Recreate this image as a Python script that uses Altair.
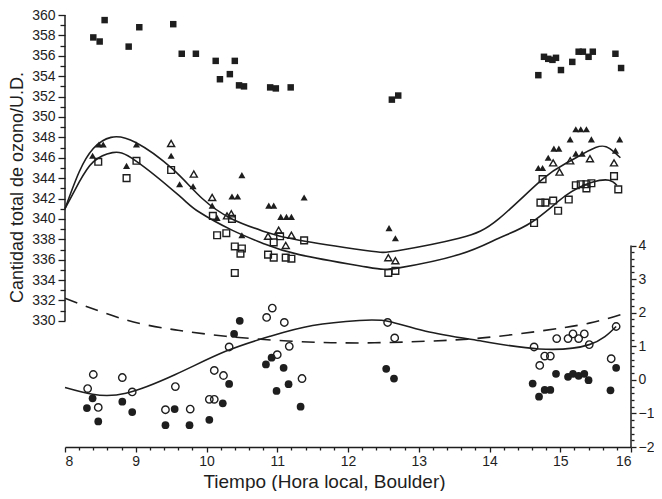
import altair as alt
import pandas as pd

# ---- Left scale (total ozone, U.D.) ----
fsq_h = [8.40, 8.49, 8.56, 8.90, 9.05, 9.53, 9.65, 9.85, 10.13, 10.40, 10.19, 10.33, 10.46, 10.53,
         10.90, 10.98, 11.19, 12.62, 12.71, 14.69, 14.77, 14.83, 14.89, 14.94, 15.01, 15.17, 15.26,
         15.32, 15.40, 15.46, 15.78, 15.86]
fsq_v = [357.8, 357.4, 359.5, 356.9, 358.8, 359.1, 356.2, 356.2, 355.5, 355.5, 353.7, 354.2, 353.1, 353.0,
         352.9, 352.8, 352.9, 351.7, 352.1, 354.1, 355.9, 355.7, 355.6, 355.8, 354.6, 355.4, 356.4,
         356.4, 355.9, 356.4, 356.2, 354.8]

ftri_h = [8.39, 8.48, 8.54, 9.01, 8.87, 9.50, 9.62, 9.81, 10.50, 10.36, 10.44, 10.08, 10.15, 10.50,
          10.88, 10.95, 11.05, 11.13, 11.20, 11.38, 12.58, 12.67, 14.69, 14.75, 14.83, 14.91, 14.98,
          15.22, 15.31, 15.14, 15.22, 15.29, 15.37, 15.44, 15.84, 15.78]
ftri_v = [346.2, 347.3, 347.3, 347.3, 345.2, 346.2, 343.4, 343.2, 344.3, 342.2, 342.2, 341.3, 340.1, 338.4,
          341.3, 341.3, 340.2, 340.2, 340.2, 342.1, 339.1, 338.1, 345.0, 345.0, 346.0, 346.9, 346.9,
          346.4, 346.4, 347.8, 348.8, 348.8, 348.8, 347.8, 347.8, 346.7]

otri_h = [9.50, 9.82, 10.08, 10.29, 10.35, 11.02, 10.87, 11.20, 11.12, 12.57, 12.67, 14.90, 15.14,
          14.99, 15.42, 15.76]
otri_v = [347.4, 344.4, 342.1, 340.3, 340.5, 338.9, 338.3, 338.4, 337.4, 336.2, 335.9, 345.5, 345.7,
          344.6, 345.9, 345.5]

osq_h = [8.47, 9.01, 8.87, 9.50, 10.09, 10.36, 10.15, 10.28, 10.40, 10.50, 10.48, 10.40, 11.04, 10.95,
         11.38, 10.87, 10.95, 11.12, 11.20, 12.57, 12.67, 14.75, 15.22, 15.29, 15.37, 15.44, 15.37,
         15.12, 14.72, 14.79, 14.90, 14.97, 14.63, 15.76, 15.82]
osq_v = [345.6, 345.7, 344.0, 344.8, 340.3, 340.0, 338.4, 338.6, 337.3, 337.1, 336.6, 334.7, 338.3, 337.7,
         337.9, 336.5, 336.2, 336.2, 336.1, 334.7, 334.9, 343.9, 343.3, 343.4, 343.4, 343.5, 343.0,
         341.9, 341.6, 341.6, 341.8, 340.8, 339.6, 344.2, 342.9]

uc_h = [8.0, 8.2, 8.4, 8.65, 9.0, 9.52, 9.94, 10.36, 10.8, 11.31, 12.25, 12.72, 13.57, 14.13, 14.75,
        15.12, 15.5, 15.7, 15.85]
uc_v = [341.0, 344.6, 346.9, 348.0, 347.5, 344.9, 342.0, 340.0, 338.8, 337.9, 336.9, 336.9, 338.1,
        340.0, 343.9, 345.6, 347.0, 346.9, 346.0]

lc_h = [8.0, 8.2, 8.4, 8.67, 9.0, 9.61, 9.89, 10.36, 10.8, 11.31, 12.25, 12.72, 13.57, 14.13, 14.6,
        15.08, 15.45, 15.69, 15.8]
lc_v = [341.0, 343.6, 345.6, 346.5, 345.7, 342.3, 340.7, 338.9, 337.6, 336.5, 335.3, 335.2, 336.5,
        338.1, 339.7, 342.3, 343.6, 343.8, 343.3]

# ---- Right scale ----
ocir_h = [8.40, 8.32, 8.47, 8.81, 8.95, 9.56, 9.42, 9.77, 10.11, 10.24, 10.04, 10.11, 10.32, 10.85,
          10.93, 11.10, 11.17, 11.00, 11.35, 12.56, 12.66, 14.63, 14.71, 14.78, 14.86, 14.95, 15.11,
          15.18, 15.26, 15.34, 15.41, 15.72, 15.79]
ocir_v = [0.16, -0.26, -0.82, 0.07, -0.36, -0.20, -0.89, -0.87, 0.28, 0.13, -0.58, -0.58, 0.98, 1.86,
          2.14, 1.71, 1.00, 0.75, 0.04, 1.71, 1.25, 0.98, 0.43, 0.71, 0.71, 1.23, 1.23,
          1.37, 1.23, 1.37, 1.05, 0.63, 1.59]

fcir_h = [8.39, 8.31, 8.47, 8.81, 8.95, 9.55, 9.42, 9.76, 10.04, 10.23, 10.32, 10.39, 10.47, 10.84,
          10.92, 11.09, 10.99, 11.16, 11.33, 12.54, 12.65, 14.61, 14.70, 14.78, 14.86, 14.94, 15.11,
          15.18, 15.26, 15.34, 15.40, 15.71, 15.79]
fcir_v = [-0.55, -0.84, -1.24, -0.65, -0.96, -0.87, -1.35, -1.35, -1.19, -0.70, -0.12, 1.37, 1.76, 0.46,
          0.66, 0.36, -0.33, -0.13, -0.80, 0.33, 0.04, -0.11, -0.50, -0.30, -0.30, 0.18, 0.09,
          0.18, 0.12, 0.18, -0.01, -0.31, 0.36]

rc_h = [8.0, 8.39, 8.86, 9.56, 10.27, 10.9, 11.5, 12.16, 12.58, 13.10, 13.90, 14.70, 15.41, 15.79]
rc_v = [-0.23, -0.43, -0.40, 0.16, 0.85, 1.30, 1.62, 1.77, 1.74, 1.45, 1.15, 0.92, 1.05, 1.59]

dc_h = [8.0, 8.86, 9.56, 10.27, 11.21, 12.16, 13.10, 13.90, 14.70, 15.41, 15.92]
dc_v = [2.43, 1.79, 1.49, 1.30, 1.15, 1.10, 1.15, 1.25, 1.45, 1.69, 1.99]

# axis ticks / spans
x_ticks = [round(8 + 0.2 * i, 1) for i in range(41)]
left_ticks = list(range(330, 361))
right_ticks = [round(-2 + 0.2 * i, 1) for i in range(31)]
left_span = [330, 360]
right_span = [-2, 4]

INK = "#1e1e1e"
FONT = "Liberation Sans"


def df(h, v):
    return pd.DataFrame({"h": h, "v": v})


is_int = "abs(datum.value - round(datum.value)) < 0.01"

X = alt.X("h:Q", scale=alt.Scale(domain=[8, 16], nice=False, zero=False),
          axis=alt.Axis(values=x_ticks, grid=False,
                        labelExpr=f"{is_int} ? format(round(datum.value), 'd') : ''",
                        tickSize={"condition": {"test": is_int, "value": 5}, "value": 3},
                        labelPadding=2,
                        title="Tiempo (Hora local, Boulder)", titleFontSize=19,
                        titlePadding=4, titleX=259))

YL = alt.Y("v:Q", scale=alt.Scale(domain=[317.63, 360], nice=False, zero=False),
           axis=alt.Axis(orient="left", values=left_ticks, grid=False, domain=False,
                         labelExpr="datum.value % 2 == 0 ? datum.label : ''",
                         tickSize={"condition": {"test": "datum.value % 2 == 0", "value": 7}, "value": 5},
                         title="Cantidad total de ozono/U.D.", titleFontSize=18,
                         titlePadding=5, titleY=172))

YR = alt.Y("v:Q", scale=alt.Scale(domain=[-2, 10.87], nice=False, zero=False),
           axis=alt.Axis(orient="right", values=right_ticks, grid=False, domain=False,
                         labelExpr=f"{is_int} ? format(round(datum.value), 'd') : ''",
                         tickSize={"condition": {"test": is_int, "value": 5}, "value": 3},
                         labelPadding=2, title=None))


def pts(h, v, shape, filled, y, size=48):
    return alt.Chart(df(h, v)).mark_point(
        shape=shape, filled=filled, size=size, color=INK, opacity=1, strokeWidth=1.4
    ).encode(x=X, y=y)


def line(h, v, y, dash=None):
    kw = dict(color=INK, strokeWidth=1.6, interpolate="natural")
    if dash:
        kw["strokeDash"] = dash
    return alt.Chart(df(h, v)).mark_line(**kw).encode(x=X, y=y)


rule_l = alt.Chart(pd.DataFrame({"h": [8], "v": [left_span[0]], "v2": [left_span[1]]})).mark_rule(
    color=INK, strokeWidth=1.5).encode(x=X, y=YL, y2="v2:Q")
rule_r = alt.Chart(pd.DataFrame({"h": [16], "v": [right_span[0]], "v2": [right_span[1]]})).mark_rule(
    color=INK, strokeWidth=1.5).encode(x=X, y=YR, y2="v2:Q")

left = alt.layer(
    rule_l,
    line(uc_h, uc_v, YL),
    line(lc_h, lc_v, YL),
    pts(fsq_h, fsq_v, "square", True, YL, 42),
    pts(ftri_h, ftri_v, "triangle-up", True, YL, 50),
    pts(otri_h, otri_v, "triangle-up", False, YL, 50),
    pts(osq_h, osq_v, "square", False, YL, 45),
)

right = alt.layer(
    rule_r,
    line(rc_h, rc_v, YR),
    line(dc_h, dc_v, YR, dash=[13, 9]),
    pts(ocir_h, ocir_v, "circle", False, YR, 55),
    pts(fcir_h, fcir_v, "circle", True, YR, 60),
)

chart = alt.layer(left, right).resolve_scale(y="independent").properties(
    width=646, height=483,
    autosize=alt.AutoSizeParams(type="fit", contains="padding"),
    padding={"left": 0, "top": 0, "right": 0, "bottom": 0},
    background="white",
).configure_view(stroke=None).configure_axis(
    labelFont=FONT, labelFontSize=14, labelColor=INK, tickColor=INK, domainColor=INK,
    tickWidth=1.3, domainWidth=1.5, titleFont=FONT, titleFontWeight="normal", titleColor=INK,
    labelPadding=3,
)

chart.save("out.html", embed_options={"renderer": "svg", "actions": False})
